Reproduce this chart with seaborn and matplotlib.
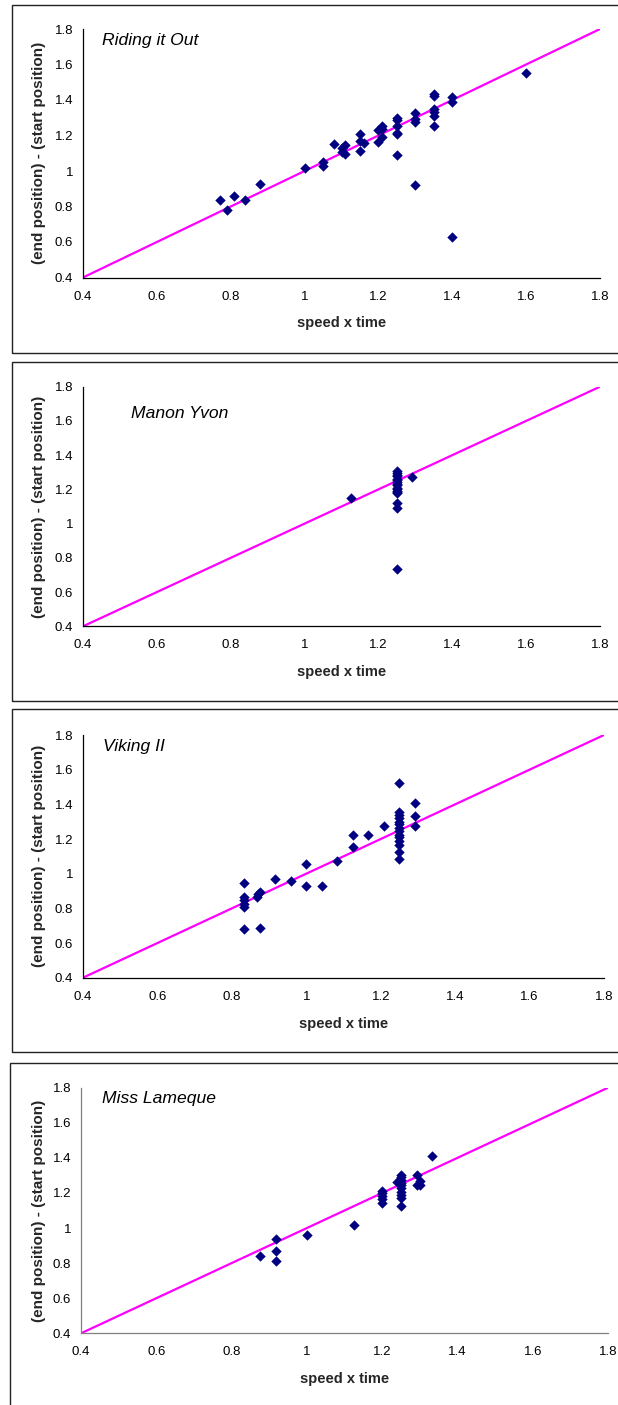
import matplotlib
matplotlib.use("Agg")
import matplotlib.pyplot as plt
from matplotlib.patches import Rectangle
import seaborn as sns
import pandas as pd

# ---------------- data ----------------
titles = ["Riding it Out", "Manon Yvon", "Viking II", "Miss Lameque"]

riding_x = [0.77, 0.79, 0.81, 0.84, 0.88, 1.00, 1.05, 1.05, 1.08, 1.10, 1.10, 1.11, 1.11,
            1.15, 1.15, 1.16, 1.15, 1.20, 1.20, 1.21, 1.21, 1.21, 1.25, 1.25, 1.25, 1.25,
            1.25, 1.25, 1.30, 1.30, 1.30, 1.30, 1.35, 1.35, 1.35, 1.35, 1.35, 1.35, 1.40,
            1.40, 1.40, 1.60]
riding_y = [0.835, 0.780, 0.857, 0.835, 0.925, 1.015, 1.050, 1.028, 1.151, 1.131, 1.108,
            1.144, 1.097, 1.206, 1.168, 1.155, 1.110, 1.165, 1.230, 1.253, 1.234, 1.193,
            1.298, 1.285, 1.253, 1.215, 1.206, 1.090, 1.328, 1.294, 1.275, 0.919, 1.436,
            1.425, 1.350, 1.331, 1.309, 1.255, 1.419, 1.391, 0.627, 1.551]

manon_x = [1.125, 1.25, 1.25, 1.25, 1.25, 1.25, 1.25, 1.25, 1.25, 1.25, 1.25, 1.25, 1.25,
           1.25, 1.25, 1.25, 1.25, 1.25, 1.29]
manon_y = [1.152, 1.305, 1.298, 1.284, 1.276, 1.262, 1.255, 1.243, 1.232, 1.224, 1.211,
           1.203, 1.190, 1.182, 1.176, 1.123, 1.094, 0.736, 1.275]

viking_x = [0.833, 0.833, 0.833, 0.833, 0.833, 0.833, 0.867, 0.871, 0.875, 0.875, 0.917,
            0.958, 1.000, 1.000, 1.042, 1.083, 1.125, 1.125, 1.167, 1.208,
            1.25, 1.25, 1.25, 1.25, 1.25, 1.25, 1.25, 1.25, 1.25, 1.25, 1.25, 1.25, 1.25, 1.25,
            1.292, 1.292, 1.292]
viking_y = [0.945, 0.866, 0.851, 0.826, 0.810, 0.682, 0.866, 0.885, 0.895, 0.688, 0.972,
            0.958, 1.058, 0.929, 0.929, 1.071, 1.225, 1.156, 1.221, 1.275,
            1.522, 1.355, 1.340, 1.322, 1.301, 1.285, 1.263, 1.247, 1.226, 1.210, 1.187,
            1.168, 1.127, 1.083,
            1.409, 1.330, 1.275]

lameque_x = [0.875, 0.917, 0.917, 0.917, 1.000, 1.125, 1.20, 1.20, 1.20, 1.20, 1.20,
             1.25, 1.25, 1.25, 1.25, 1.25, 1.25, 1.25, 1.25, 1.25, 1.25, 1.24,
             1.292, 1.30, 1.292, 1.30, 1.333]
lameque_y = [0.839, 0.935, 0.867, 0.811, 0.958, 1.015, 1.213, 1.198, 1.183, 1.164, 1.145,
             1.302, 1.289, 1.274, 1.259, 1.244, 1.227, 1.208, 1.189, 1.170, 1.123, 1.265,
             1.300, 1.270, 1.244, 1.244, 1.408]

line_x = [0.4, 1.8]
line_y = [0.4, 1.8]

tick_vals = [0.4, 0.6, 0.8, 1.0, 1.2, 1.4, 1.6, 1.8]
tick_labels = ["0.4", "0.6", "0.8", "1", "1.2", "1.4", "1.6", "1.8"]

series = [(riding_x, riding_y), (manon_x, manon_y), (viking_x, viking_y), (lameque_x, lameque_y)]

# ---------------- style / layout ----------------
sns.set_style("white")
plt.rcParams["font.family"] = ["Liberation Sans", "DejaVu Sans"]

W, H = 618, 1405
fig = plt.figure(figsize=(W / 100, H / 100), dpi=100)
fig.patch.set_facecolor("white")

# axes rectangles in pixels: left, right, top, bottom
ax_px = [(83, 600, 29, 277.5), (83, 600, 386.7, 626.3), (83, 604, 735, 977.7), (81, 608, 1087.7, 1333.3)]
# frame boxes in pixels: left, top, bottom
box_px = [(12, 5, 352.7), (12, 361.7, 700.7), (12, 709, 1051.7), (10, 1062.7, 1420)]
title_pos = [(0.451, 1.734), (0.53, 1.645), (0.453, 1.736), (0.455, 1.74)]
spine_cols = ["black", "black", "black", "#808080"]

for (bl, bt, bb) in box_px:
    fig.patches.append(Rectangle((bl / W, 1 - bb / H), 1.2, (bb - bt) / H,
                                 transform=fig.transFigure, fill=False,
                                 edgecolor="#222222", linewidth=1.0, clip_on=False))

for i, ((l, r, t, b), (xs, ys)) in enumerate(zip(ax_px, series)):
    ax = fig.add_axes([l / W, 1 - b / H, (r - l) / W, (b - t) / H])
    ax.set_facecolor("none")
    df = pd.DataFrame({"x": xs, "y": ys})
    sns.lineplot(x=line_x, y=line_y, ax=ax, color="#FF00FF", linewidth=1.6, zorder=2)
    sns.scatterplot(data=df, x="x", y="y", ax=ax, marker="D", s=28, color="#000080",
                    linewidth=0, zorder=3)
    ax.set_xlim(0.4, 1.8)
    ax.set_ylim(0.4, 1.8)
    ax.set_xticks(tick_vals)
    ax.set_xticklabels(tick_labels)
    ax.set_yticks(tick_vals)
    ax.set_yticklabels(tick_labels)
    for s in ["top", "right"]:
        ax.spines[s].set_visible(False)
    for s in ["left", "bottom"]:
        ax.spines[s].set_color(spine_cols[i])
        ax.spines[s].set_linewidth(0.9)
    ax.tick_params(axis="both", direction="out", length=2.5, width=0.8,
                   colors=spine_cols[i], labelcolor="black", labelsize=9.5)
    ax.tick_params(axis="x", pad=7)
    ax.tick_params(axis="y", pad=4.5)
    ax.set_xlabel("speed x time", fontsize=10.5, fontweight="bold")
    ax.set_ylabel("(end position) - (start position)", fontsize=11, fontweight="bold")
    ax.xaxis.set_label_coords(0.5, -46 / (b - t))
    ax.xaxis.label.set_va("center")
    ax.yaxis.set_label_coords(-(l - 39) / (r - l), 0.5)
    ax.yaxis.label.set_va("center")
    tx, ty = title_pos[i]
    ax.text(tx, ty, titles[i], fontsize=12.6, fontstyle="italic", ha="left", va="center",
            color="black")
    ax.grid(False)

fig.savefig("out.png", dpi=100, facecolor="white")
